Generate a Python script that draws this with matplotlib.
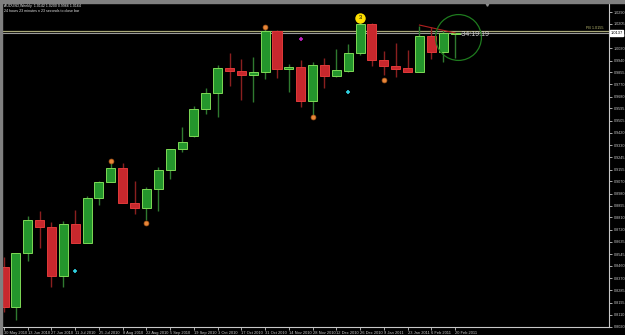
import matplotlib
matplotlib.use("Agg")
import matplotlib.pyplot as plt
from matplotlib.patches import Rectangle
import numpy as np

plt.rcParams["font.family"] = ["Liberation Sans", "DejaVu Sans"]

# weekly AUDUSD candles, 30 May 2010 .. 20 Feb 2011
opens = [0.8450, 0.8166, 0.8556, 0.8791, 0.8739, 0.8388, 0.8762, 0.8628, 0.8948, 0.9067,
         0.9168, 0.8916, 0.8875, 0.9012, 0.9151, 0.9301, 0.9399, 0.9589, 0.9708, 0.9884,
         0.9867, 0.9836, 0.9856, 1.0155, 0.9877, 0.9892, 0.9651, 0.9908, 0.9831, 0.9867,
         0.9992, 1.0204, 0.9944, 0.9901, 0.9884, 0.9860, 1.0117, 1.0004, 1.0128]
highs = [0.8525, 0.8553, 0.8820, 0.8856, 0.8775, 0.8786, 0.8863, 0.8966, 0.9069, 0.9200,
         0.9200, 0.9072, 0.9027, 0.9175, 0.9303, 0.9463, 0.9613, 0.9745, 0.9908, 0.9997,
         0.9949, 0.9968, 1.0184, 1.0157, 0.9915, 0.9944, 0.9932, 0.9956, 1.0021, 1.0060,
         1.0225, 1.0209, 1.0011, 1.0069, 1.0016, 1.0189, 1.0184, 1.0160, 1.0139]
lows = [0.8128, 0.8071, 0.8498, 0.8587, 0.8311, 0.8311, 0.8626, 0.8626, 0.8899, 0.9065,
        0.8914, 0.8832, 0.8791, 0.8856, 0.9084, 0.9283, 0.9387, 0.9553, 0.9536, 0.9757,
        0.9656, 0.9644, 0.9805, 0.9812, 0.9716, 0.9603, 0.9536, 0.9740, 0.9824, 0.9856,
        0.9980, 0.9901, 0.9836, 0.9819, 0.9858, 0.9858, 0.9949, 0.9932, 0.9956]
closes = [0.8166, 0.8551, 0.8791, 0.8739, 0.8388, 0.8762, 0.8628, 0.8948, 0.9067, 0.9168,
          0.8916, 0.8880, 0.9015, 0.9151, 0.9301, 0.9355, 0.9589, 0.9708, 0.9889, 0.9867,
          0.9836, 0.9860, 1.0155, 0.9879, 0.9892, 0.9651, 0.9908, 0.9831, 0.9872, 0.9992,
          1.0204, 0.9944, 0.9901, 0.9881, 0.9860, 1.0117, 1.0004, 1.0137, 1.0137]

date_labels = ["30 May 2010", "13 Jun 2010", "27 Jun 2010", "11 Jul 2010", "25 Jul 2010",
               "8 Aug 2010", "22 Aug 2010", "5 Sep 2010", "19 Sep 2010", "3 Oct 2010",
               "17 Oct 2010", "31 Oct 2010", "14 Nov 2010", "28 Nov 2010", "12 Dec 2010",
               "26 Dec 2010", "9 Jan 2011", "23 Jan 2011", "6 Feb 2011", "20 Feb 2011"]
price_ticks = [1.0290, 1.0205, 1.0120, 1.0030, 0.9940, 0.9855, 0.9770, 0.9680, 0.9595,
               0.9505, 0.9420, 0.9330, 0.9245, 0.9155, 0.9070, 0.8980, 0.8895, 0.8810,
               0.8720, 0.8635, 0.8545, 0.8460, 0.8370, 0.8285, 0.8195, 0.8110, 0.8020]

# indicator markers (bar index, price)
fractal_x = [9, 12, 22, 26, 32]
fractal_y = [0.9218, 0.8768, 1.0180, 0.9531, 0.9798]
cyan_x = [6, 29]
cyan_y = [0.8426, 0.9714]
magenta_x = [25]
magenta_y = [1.0093]
wave_x, wave_y, wave_label = 30, 1.0247, "3"
pivot_level = 1.0155
trend_x = [35, 38]
trend_y = [1.0196, 1.0139]
timer_x, timer_y = 38.25, 1.0112

title_line1 = "AUDUSD,Weekly  1.0142 1.0200 0.9966 1.0164"
title_line2 = "24 hours 23 minutes n 23 seconds to close bar"

fig = plt.figure(figsize=(6.25, 3.35), dpi=100, facecolor="black")
fig.patches.append(Rectangle((0, 1 - 3 / 335), 1, 3 / 335, transform=fig.transFigure,
                             color="#808080", zorder=0))
fig.patches.append(Rectangle((0, 0), 2 / 625, 1, transform=fig.transFigure,
                             color="#808080", zorder=0))

ax = fig.add_axes([2 / 625, 8 / 335, 607 / 625, 324 / 335])
ax.set_facecolor("black")

x = np.arange(len(opens))
for i in x:
    o, h, l, c = opens[i], highs[i], lows[i], closes[i]
    up = c >= o
    wick = "#2f7a2f" if up else "#8a1f1f"
    body = "#24962c" if up else "#c8282d"
    edge = "#7ed957" if up else "#e03a3a"
    ax.vlines(i, l, h, color=wick, lw=1, zorder=2)
    hgt = max(abs(c - o), 0.0003)
    ax.bar(i, hgt, bottom=min(o, c), width=0.76, color=body, edgecolor=edge,
           linewidth=0.7, zorder=3)

ax.axhline(pivot_level, color="#a8a878", lw=0.9, zorder=1)
ax.axhline(closes[-1], color="#9a9a9a", lw=0.8, zorder=1)
ax.plot(trend_x, trend_y, color="#b02020", lw=0.8, zorder=4)

ax.plot(fractal_x, fractal_y, "o", ms=3.5, color="#e8873a", mec="#b05a1a", mew=0.5, zorder=5)
ax.plot(cyan_x, cyan_y, "+", ms=3.5, color="#30d0e0", mew=1.2, zorder=5)
ax.plot(magenta_x, magenta_y, "+", ms=3.5, color="#c020c0", mew=1.2, zorder=5)
ax.plot([wave_x], [wave_y], "o", ms=6.5, color="#ffe000", zorder=5)
ax.text(wave_x, wave_y, wave_label, fontsize=4, color="black", ha="center",
        va="center", zorder=6)
ax.plot([timer_x], [timer_y], "o", ms=33, mfc="none", mec="#1e7a1e", mew=0.9, zorder=5)
ax.text(timer_x + 0.1, closes[-1] - 0.0006, "-34:19:19", fontsize=5, color="#d0d0d0",
        ha="left", va="center", zorder=6)

ax.plot([40.7], [1.0350], "v", ms=2.5, color="#909090", clip_on=False, zorder=6)

ax.set_xlim(-0.168, 50.97)
ax.set_ylim(0.80202, 1.03549)

ax.yaxis.tick_right()
ax.set_yticks(price_ticks)
ax.set_yticklabels([f"{v:.4f}" for v in price_ticks])
ax.tick_params(axis="y", colors="#c8c8c8", labelsize=2.7, length=2, width=0.6, pad=1.5)
ax.set_xticks(np.arange(0, len(opens), 2))
ax.set_xticklabels(date_labels, ha="left")
ax.tick_params(axis="x", colors="#c8c8c8", labelsize=2.9, length=2, width=0.6, pad=1)

for side in ["top", "left"]:
    ax.spines[side].set_visible(False)
ax.spines["right"].set_color("#c8c8c8")
ax.spines["bottom"].set_color("#c8c8c8")
ax.spines["right"].set_linewidth(0.8)
ax.spines["bottom"].set_linewidth(0.8)

# level tag and current price box
ax.text(50.5, pivot_level + 0.0003, f"PB {pivot_level:.4f}", fontsize=2.7,
        color="#b8b870", ha="right", va="bottom")
ax.annotate(f"{closes[-1]:.4f}", xy=(1.0, closes[-1]), xycoords=("axes fraction", "data"),
            xytext=(1, 0), textcoords="offset points", fontsize=2.9, color="black",
            va="center", ha="left",
            bbox=dict(boxstyle="square,pad=0.2", fc="white", ec="white"))

fig.text(4 / 625, 1 - 6 / 335, title_line1, fontsize=2.6, color="#e8e8e8", va="center")
fig.text(4 / 625, 1 - 10.5 / 335, title_line2, fontsize=2.6, color="#e8e8e8", va="center")

fig.savefig("out.png", dpi=100, facecolor="black")
